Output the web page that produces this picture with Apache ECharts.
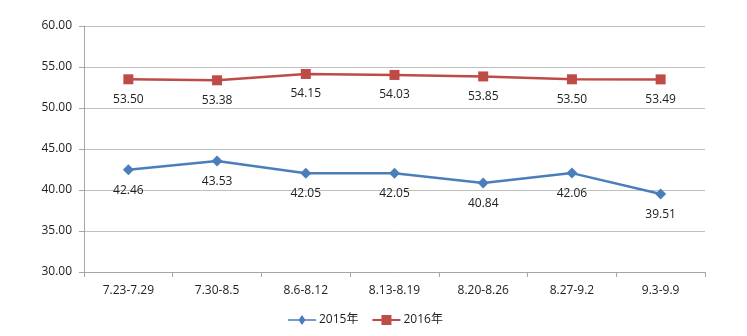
<!DOCTYPE html>
<html><head><meta charset="utf-8">
<script src="https://cdn.jsdelivr.net/npm/echarts@6/dist/echarts.min.js"></script>
<style>html,body{margin:0;padding:0;background:#fff}#c{width:747px;height:336px}</style>
</head><body><div id="c"></div>
<script>
const categories = ['7.23-7.29','7.30-8.5','8.6-8.12','8.13-8.19','8.20-8.26','8.27-9.2','9.3-9.9'];
const s2015 = [42.46, 43.53, 42.05, 42.05, 40.84, 42.06, 39.51];
const s2016 = [53.50, 53.38, 54.15, 54.03, 53.85, 53.50, 53.49];
const names = ['2015年','2016年'];
const font = 'Open Sans, Noto Sans CJK SC, sans-serif';
const chart = echarts.init(document.getElementById('c'));
const lbl = {show:true, position:'bottom', distance:9, color:'#222', fontSize:12, fontFamily:font, formatter:p=>p.value.toFixed(2)};
const iconDiamond = 'path://M0,4.2L11,4.2L14,0L17,4.2L28,4.2L28,5.8L17,5.8L14,10L11,5.8L0,5.8Z';
const iconSquare = 'path://M0,4L9,4L9,0L19,0L19,4L28,4L28,6L19,6L19,10L9,10L9,6L0,6Z';
chart.setOption({
  animation:false,
  grid:{left:84, right:42, top:26, bottom:64},
  legend:{bottom:5, left:283, itemGap:14, itemWidth:28, itemHeight:10,
    textStyle:{fontSize:12, fontFamily:font, color:'#222', padding:[0,0,0,-2]},
    data:[{name:names[0], icon:iconDiamond},{name:names[1], icon:iconSquare}]},
  xAxis:{type:'category', data:categories, boundaryGap:true,
    axisLine:{lineStyle:{color:'#a6a6a6'}}, axisTick:{show:true, length:5, lineStyle:{color:'#a6a6a6'}},
    axisLabel:{color:'#222', fontSize:12, fontFamily:font, margin:13}},
  yAxis:{type:'value', min:30, max:60, interval:5,
    axisLine:{show:true, lineStyle:{color:'#a6a6a6'}}, axisTick:{show:true, length:5, lineStyle:{color:'#a6a6a6'}},
    splitLine:{lineStyle:{color:'#bfbfbf'}},
    axisLabel:{color:'#222', fontSize:12, fontFamily:font, margin:12, formatter:v=>v.toFixed(2)}},
  series:[
    {name:names[0], type:'line', data:s2015, symbol:'diamond', symbolSize:11,
     itemStyle:{color:'#4a7ebb'}, lineStyle:{color:'#4a7ebb', width:2.5}, label:lbl},
    {name:names[1], type:'line', data:s2016, symbol:'rect', symbolSize:10,
     itemStyle:{color:'#be4b48'}, lineStyle:{color:'#be4b48', width:2.5}, label:lbl}
  ]
});
</script></body></html>
